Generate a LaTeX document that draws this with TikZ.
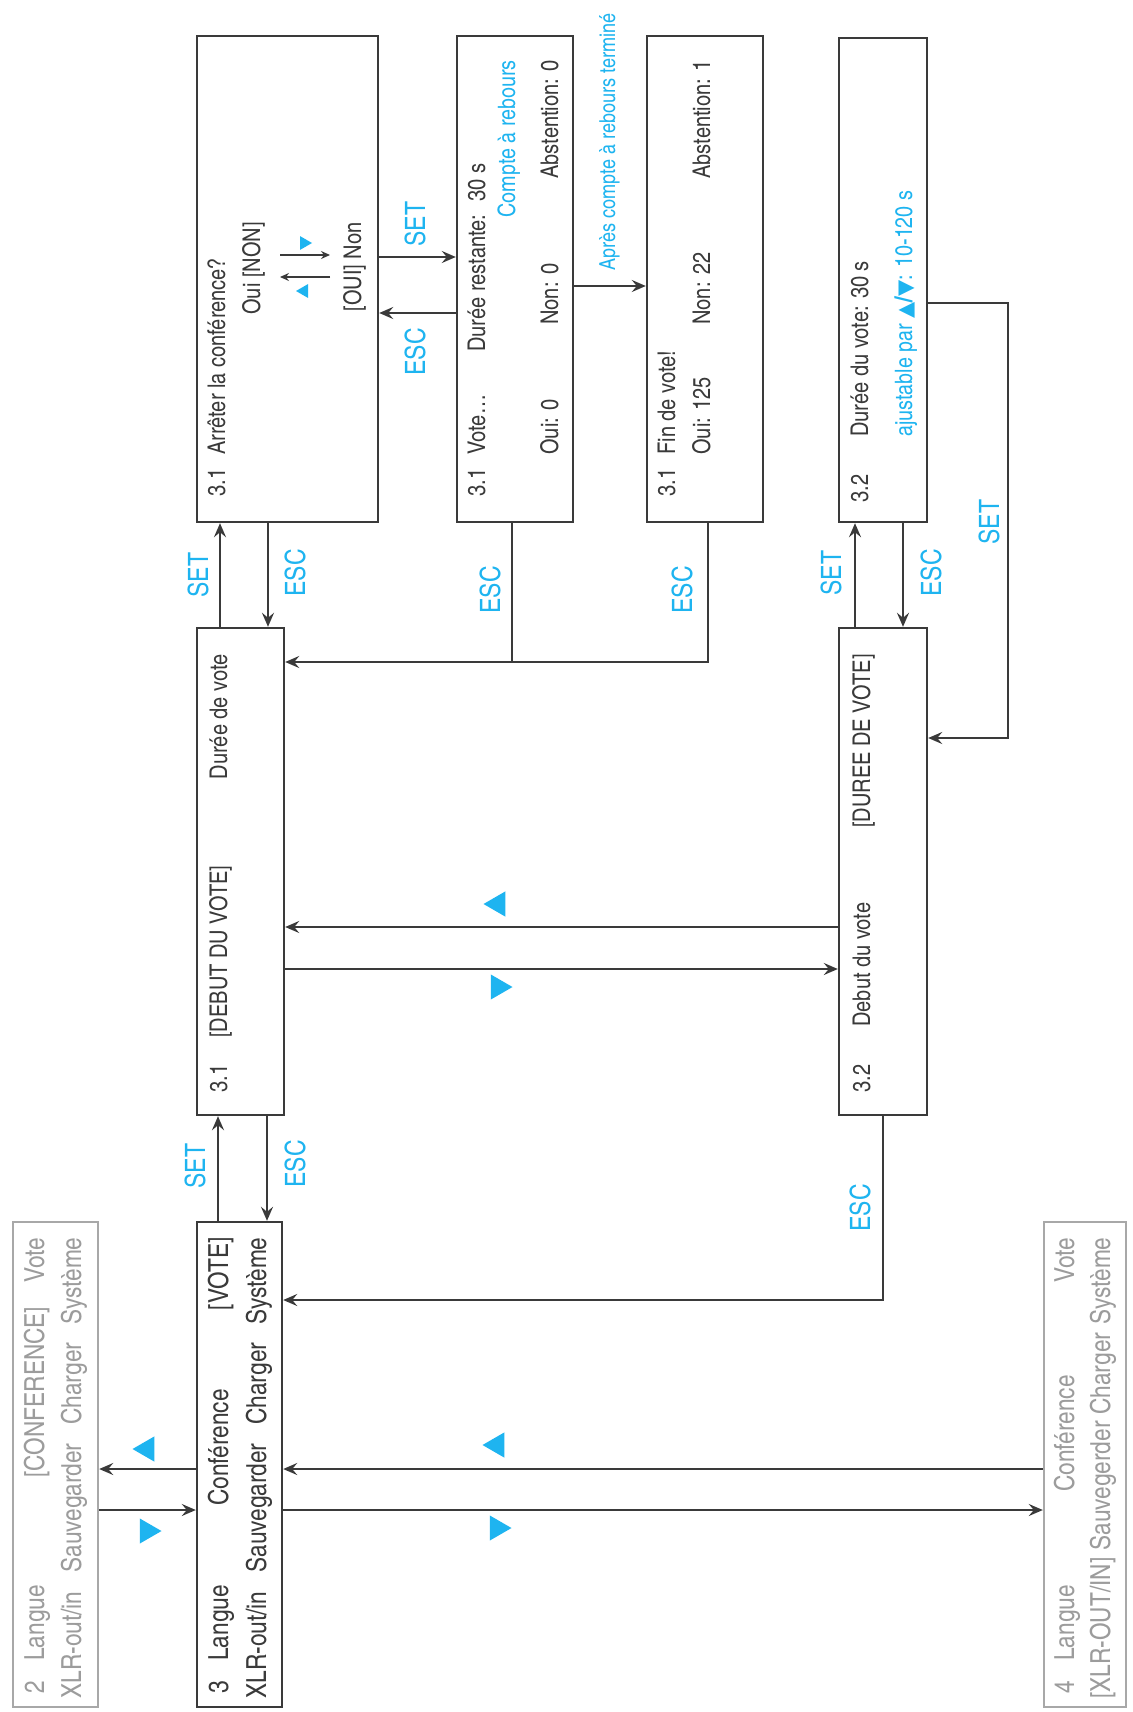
\documentclass[tikz,border=0pt]{standalone}
\usepackage{fontspec}
\IfFontExistsTF{texgyreheroscn-regular.otf}{\setmainfont{texgyreheroscn-regular.otf}[BoldFont=texgyreheroscn-bold.otf]}{\setmainfont{Liberation Sans}[FakeStretch=0.82]}
\newfontfamily\djv{DejaVu Sans}
\usetikzlibrary{arrows.meta,shapes.geometric,fit}
\definecolor{dark}{HTML}{3A3A3A}
\definecolor{lgray}{HTML}{A8A8A8}
\definecolor{tgray}{HTML}{9C9C9C}
\definecolor{cyanb}{HTML}{1EB4F0}
\newcommand\fmain{\fontsize{12.2pt}{14pt}\selectfont}
\newcommand\fbig{\fontsize{13.8pt}{16pt}\selectfont}
\newcommand\fblue{\fontsize{12pt}{14pt}\selectfont}
\newcommand\fbluesm{\fontsize{11pt}{13pt}\selectfont}
\newcommand\flab{\fontsize{14pt}{16pt}\selectfont}
\newcommand\trisym[1]{{\djv\fontsize{10.5pt}{12pt}\selectfont #1}}
\begin{document}
\begin{tikzpicture}[x=0.5pt,y=-0.5pt,
  box/.style={draw=dark, line width=1.2pt, inner sep=0pt},
  gbox/.style={draw=lgray, line width=1.2pt, inner sep=0pt},
  txt/.style={rotate=90, inner sep=0pt, font=\fmain, text=dark},
  mtxt/.style={txt, font=\fbig},
  gtxt/.style={mtxt, text=tgray},
  btxt/.style={rotate=90, inner sep=0pt, font=\fblue, text=cyanb},
  lab/.style={rotate=90, inner sep=0pt, font=\flab, text=cyanb},
  txs/.style={anchor=mid west},
  txe/.style={anchor=mid east},
  arr/.style={draw=dark, line width=1pt, -{Stealth[length=7pt,width=6pt,inset=2.5pt]}},
  sarr/.style={draw=dark, line width=0.8pt, -{Stealth[length=4.5pt,width=4pt,inset=1.5pt]}},
  ln/.style={draw=dark, line width=1pt},
  tri/.style={regular polygon, regular polygon sides=3, fill=cyanb, inner sep=0pt, minimum size=14.5pt},
  stri/.style={tri, minimum size=8pt},
  triL/.style={rotate=90}, triR/.style={rotate=-90}]
\fill[white] (0,0) rectangle (1132,1712);
\useasboundingbox (0,0) rectangle (1132,1712);

% ---------- boxes ----------
\node[box, fit={(197,36) (378,522)}] (A) {};
\node[box, fit={(457,36) (573,522)}] (B) {};
\node[box, fit={(647,36) (763,522)}] (C) {};
\node[box, fit={(839,38) (927,522)}] (D) {};
\node[box, fit={(197,628) (284,1115)}] (F) {};
\node[box, fit={(839,628) (927,1115)}] (E) {};
\node[gbox, fit={(13,1222) (98,1707)}] (B2) {};
\node[box, fit={(197,1222) (282,1707)}] (B3) {};
\node[gbox, fit={(1044,1222) (1126,1707)}] (B4) {};

% ---------- box 2 ----------
\node[gtxt, txs] (b2a) at (39,1694) {2};
\node[gtxt, txs] (b2b) at (39,1661) {Langue};
\node[gtxt, txs] (b2c) at (39,1478) {[CONFERENCE]};
\node[gtxt, txe] (b2d) at (39,1237) {Vote};
\node[gtxt, txs] (b2e) at (76,1699) {XLR-out/in};
\node[gtxt, txs] (b2f) at (76,1573) {Sauvegarder};
\node[gtxt, txs] (b2g) at (76,1425) {Charger};
\node[gtxt, txe] (b2h) at (76,1237) {Système};

% ---------- box 3 ----------
\node[mtxt, txs] (b3a) at (223,1694) {3};
\node[mtxt, txs] (b3b) at (223,1661) {Langue};
\node[mtxt, txs] (b3c) at (223,1506) {Conférence};
\node[mtxt, txe] (b3d) at (223,1237) {[VOTE]};
\node[mtxt, txs] (b3e) at (261,1699) {XLR-out/in};
\node[mtxt, txs] (b3f) at (261,1573) {Sauvegarder};
\node[mtxt, txs] (b3g) at (261,1425) {Charger};
\node[mtxt, txe] (b3h) at (261,1237) {Système};

% ---------- box 4 ----------
\node[gtxt, txs] (b4a) at (1069,1694) {4};
\node[gtxt, txs] (b4b) at (1069,1661) {Langue};
\node[gtxt, txs] (b4c) at (1069,1492) {Conférence};
\node[gtxt, txe] (b4d) at (1069,1237) {Vote};
\node[gtxt, txs] (b4e) at (1105,1699) {[XLR-OUT/IN]};
\node[gtxt, txs] (b4f) at (1105,1551) {Sauvegerder};
\node[gtxt, txs] (b4g) at (1105,1415) {Charger};
\node[gtxt, txe] (b4h) at (1105,1237) {Système};

% ---------- box A ----------
\node[txt, txs] (a1) at (220,497) {3.1};
\node[txt, txs] (a2) at (220,455) {Arrêter la conférence?};
\node[txt, txe] (a3) at (255,222) {Oui [NON]};
\node[txt, txe] (a4) at (356,222) {[OUI] Non};
\coordinate (pa1) at (280,255);
\coordinate (pa2) at (330,255);
\coordinate (pa3) at (330,277);
\coordinate (pa4) at (280,277);
\draw[sarr] (pa1) -- (pa2);
\draw[sarr] (pa3) -- (pa4);
\node[stri, triR] (ta1) at (304,243) {};
\node[stri, triL] (ta2) at (304,291) {};

% ---------- box B ----------
\node[txt, txs] (bb1) at (480,497) {3.1};
\node[txt, txs] (bb2) at (480,455) {Vote…};
\node[txt, txs] (bb3) at (480,352) {Durée restante:~ 30 s};
\node[btxt, txe] (bb4) at (510,60) {Compte à rebours};
\node[txt, txs] (bb5) at (553,455) {Oui: 0};
\node[txt, txs] (bb6) at (553,325) {Non: 0};
\node[txt, txe] (bb7) at (553,60) {Abstention: 0};

% ---------- box C ----------
\node[txt, txs] (c1) at (670,497) {3.1};
\node[txt, txs] (c2) at (670,455) {Fin de vote!};
\node[txt, txs] (c3) at (705,455) {Oui: 125};
\node[txt, txs] (c4) at (705,325) {Non: 22};
\node[txt, txe] (c5) at (705,60) {Abstention: 1};
\node[btxt, font=\fbluesm, txs] (c6) at (610,271) {Après compte à rebours terminé};

% ---------- box D ----------
\node[txt, txs] (d1) at (863,503) {3.2};
\node[txt, txs] (d2) at (863,437) {Durée du vote: 30 s};
\node[btxt, txs] (d3) at (907,437) {ajustable par \trisym{▲}\textbf{/}\trisym{▼}: 10-120 s};

% ---------- box F ----------
\node[txt, txs] (f1) at (222,1093) {3.1};
\node[txt, txs] (f2) at (222,1038) {[DEBUT DU VOTE]};
\node[txt, txe] (f3) at (222,654) {Durée de vote};

% ---------- box E ----------
\node[txt, txs] (e1) at (865,1093) {3.2};
\node[txt, txs] (e2) at (865,1027) {Debut du vote};
\node[txt, txe] (e3) at (865,654) {[DUREE DE VOTE]};

% ---------- connectors ----------
\draw[arr] (B3.west |- 0,1469) -- (B2.east |- 0,1469);
\draw[arr] (B2.east |- 0,1510) -- (B3.west |- 0,1510);
\draw[arr] (B4.west |- 0,1469) -- (B3.east |- 0,1469);
\draw[arr] (B3.east |- 0,1510) -- (B4.west |- 0,1510);
\draw[arr] (218,0 |- B3.north) -- (218,0 |- F.south);
\draw[arr] (267,0 |- F.south) -- (267,0 |- B3.north);
\draw[arr] (220,0 |- F.north) -- (220,0 |- A.south);
\draw[arr] (268,0 |- A.south) -- (268,0 |- F.north);
\draw[arr] (A.east |- 0,257) -- (B.west |- 0,257);
\draw[arr] (B.west |- 0,313) -- (A.east |- 0,313);
\draw[arr] (B.east |- 0,286) -- (C.west |- 0,286);
\draw[arr] (512,0 |- B.south) -- (512,662) -- (F.east |- 0,662);
\draw[ln] (708,0 |- C.south) -- (708,662) -- (512,662);
\draw[arr] (E.west |- 0,927) -- (F.east |- 0,927);
\draw[arr] (F.east |- 0,969) -- (E.west |- 0,969);
\draw[arr] (855,0 |- E.north) -- (855,0 |- D.south);
\draw[arr] (903,0 |- D.south) -- (903,0 |- E.north);
\draw[arr] (D.east |- 0,303) -- (1008,303) -- (1008,738) -- (E.east |- 0,738);
\draw[arr] (883,0 |- E.south) -- (883,1300) -- (B3.east |- 0,1300);

% ---------- labels ----------
\node[lab] (l1) at (198,575) {SET};
\node[lab] (l2) at (295,573) {ESC};
\node[lab] (l3) at (195,1166) {SET};
\node[lab] (l4) at (295,1164) {ESC};
\node[lab] (l5) at (415,224) {SET};
\node[lab] (l6) at (415,352) {ESC};
\node[lab] (l7) at (490,590) {ESC};
\node[lab] (l8) at (682,590) {ESC};
\node[lab] (l9) at (831,573) {SET};
\node[lab] (l10) at (931,573) {ESC};
\node[lab] (l11) at (989,522) {SET};
\node[lab] (l12) at (860,1208) {ESC};

% ---------- triangles ----------
\node[tri, triL] (t1) at (147,1449) {};
\node[tri, triR] (t2) at (147,1531) {};
\node[tri, triL] (t3) at (497,1445) {};
\node[tri, triR] (t4) at (497,1528) {};
\node[tri, triL] (t5) at (498,904) {};
\node[tri, triR] (t6) at (498,987) {};
\end{tikzpicture}
\end{document}
